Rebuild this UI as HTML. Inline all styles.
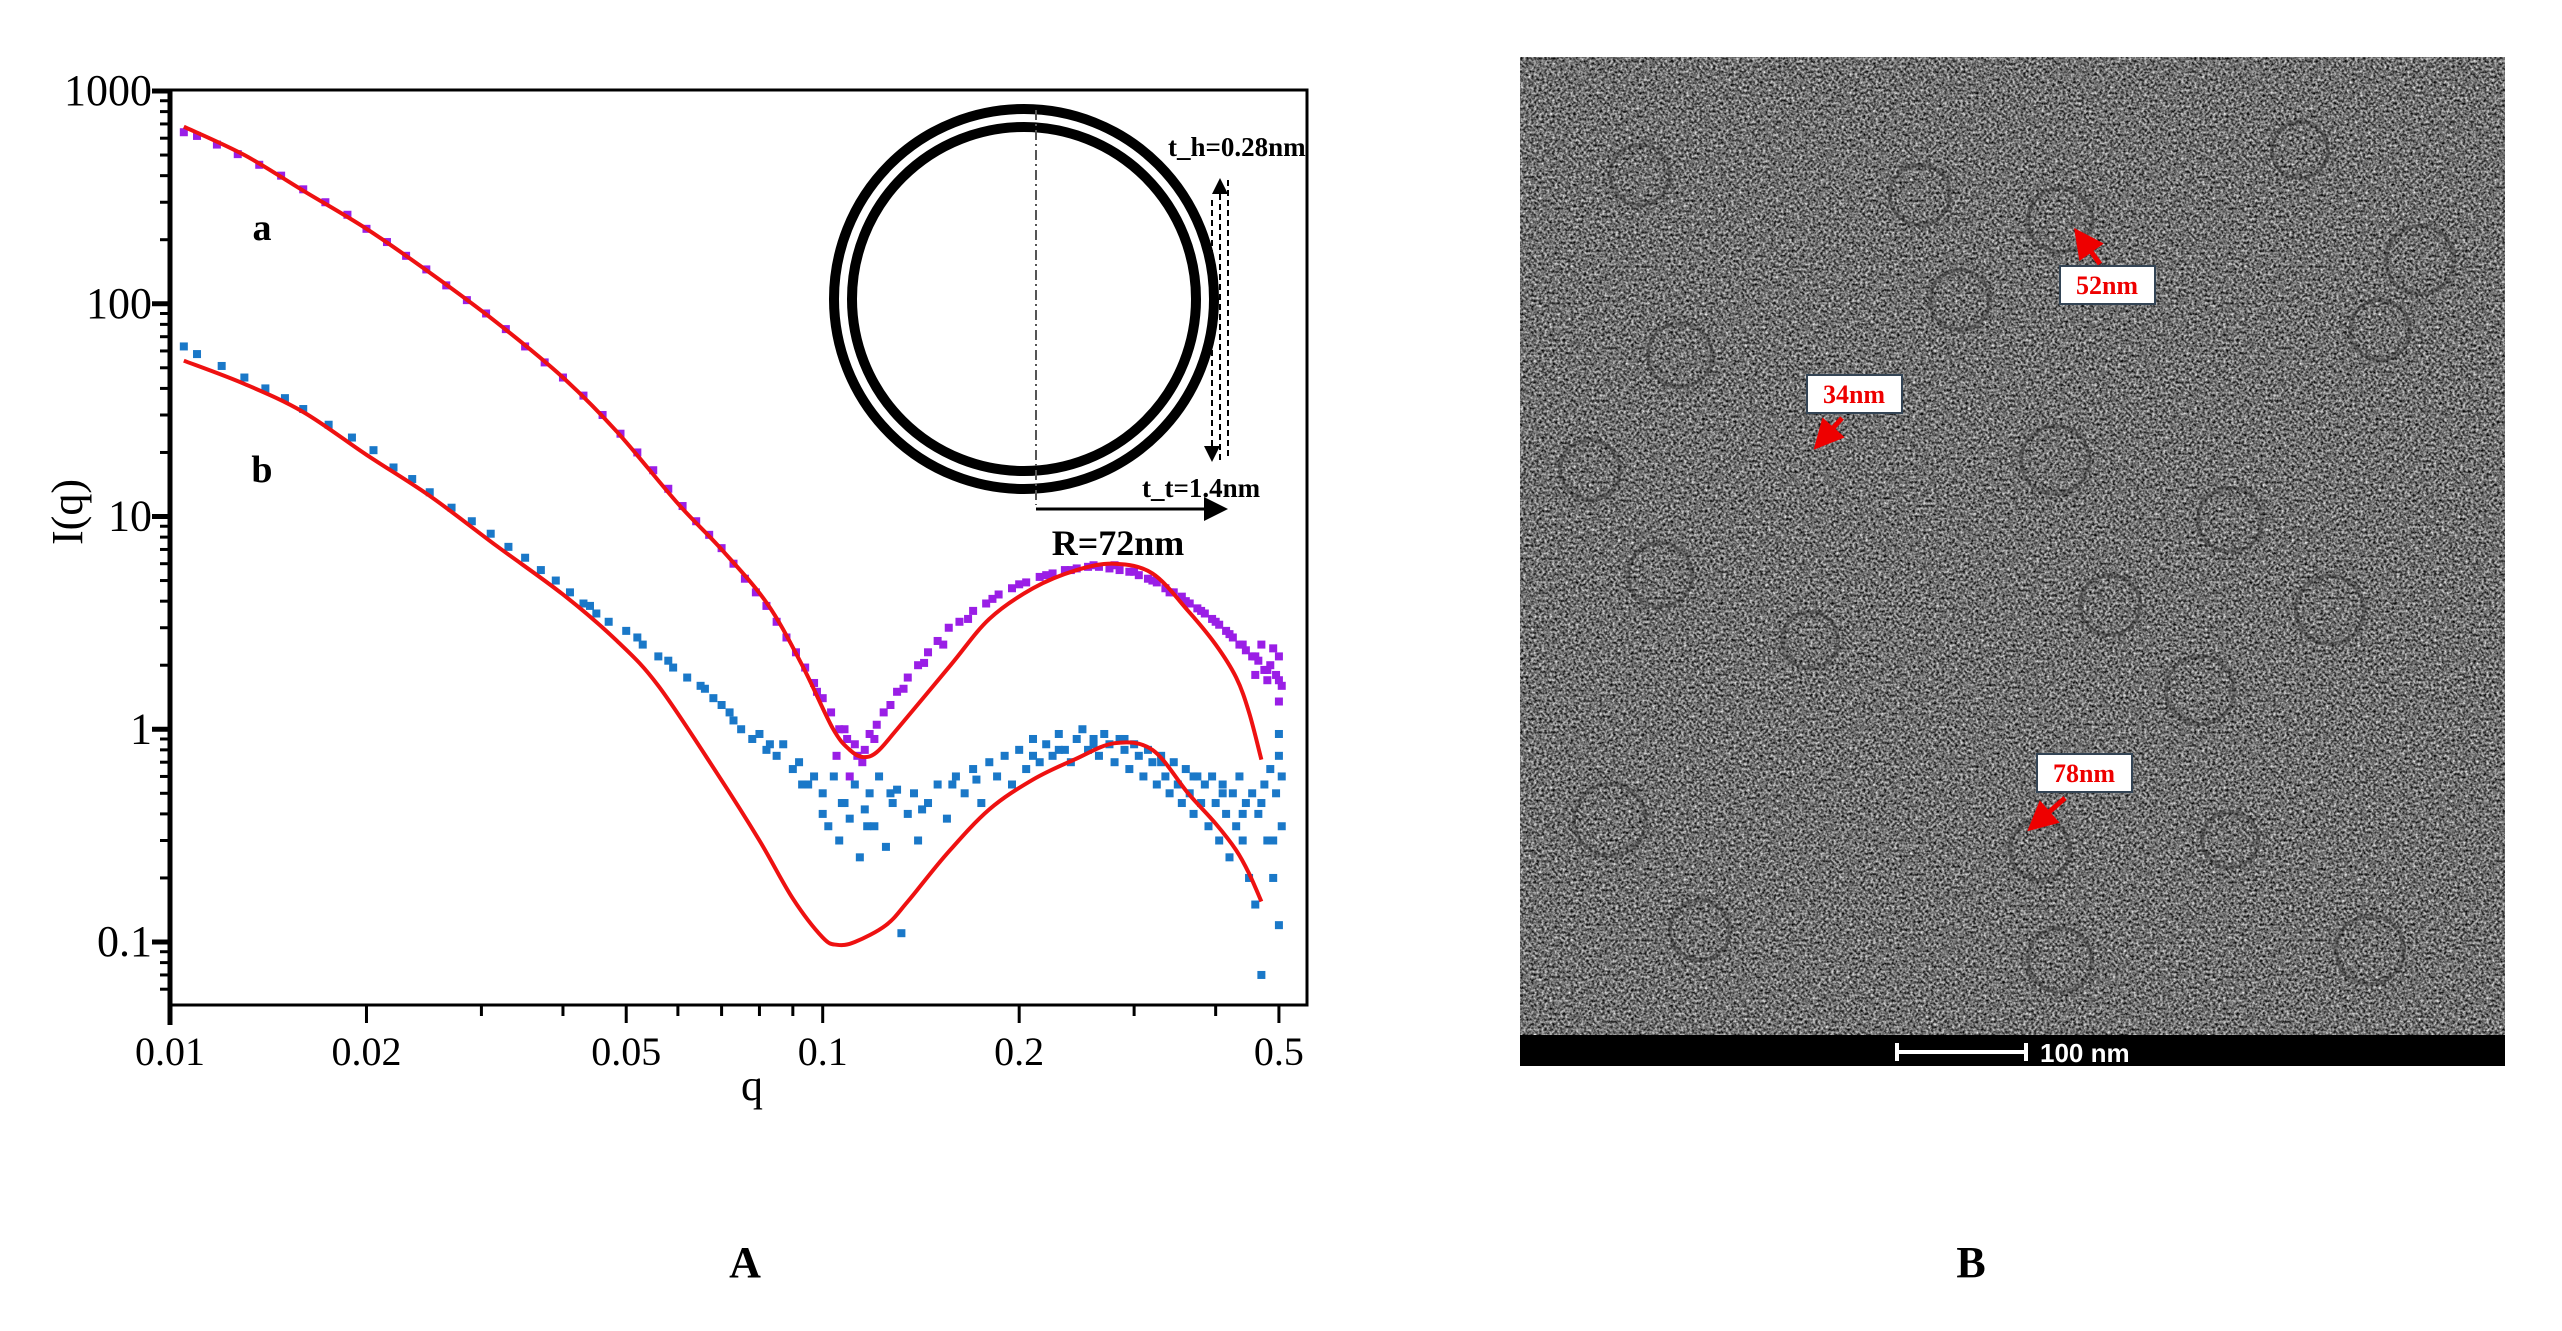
<!DOCTYPE html>
<html><head><meta charset="utf-8"><style>
html,body{margin:0;padding:0;background:#fff;}
svg{display:block;font-family:"Liberation Serif",serif;}
</style></head><body>
<svg id="fig" width="2562" height="1331" viewBox="0 0 2562 1331" xmlns="http://www.w3.org/2000/svg">
<defs>
<filter id="noise" x="0" y="0" width="100%" height="100%" color-interpolation-filters="sRGB">
<feTurbulence type="fractalNoise" baseFrequency="0.38" numOctaves="2" seed="7" result="t"/>
<feColorMatrix type="matrix" values="1.35 0 0 0 -0.24  1.35 0 0 0 -0.24  1.35 0 0 0 -0.24  0 0 0 0 1"/>
</filter>
<clipPath id="plotclip"><rect x="170" y="90" width="1137" height="915"/></clipPath>
<marker id="ah" markerWidth="8" markerHeight="8" refX="7" refY="4" orient="auto"><path d="M0,0 L8,4 L0,8 z" fill="#000"/></marker>
<marker id="rh" markerWidth="6" markerHeight="6" refX="5" refY="3" orient="auto"><path d="M0,0 L6,3 L0,6 z" fill="#e00"/></marker>
</defs>
<g id="chartA"></g>
<g id="panelB">
<rect x="1520" y="57" width="985" height="978" fill="#707070" filter="url(#noise)"/>
<g id="rings" fill="none" stroke="#2a2a2a" stroke-width="4" opacity="0.4"></g>
<rect x="1520" y="1035" width="985" height="31" fill="#000"/>
<g stroke="#fff" stroke-width="4">
<line x1="1897" y1="1052" x2="2026" y2="1052"/><line x1="1897" y1="1043" x2="1897" y2="1061"/><line x1="2026" y1="1043" x2="2026" y2="1061"/>
</g>
<text x="2040" y="1062" fill="#fff" font-family="Liberation Sans, sans-serif" font-size="26" font-weight="bold">100 nm</text>
<g>
<line x1="2100" y1="264" x2="2077" y2="232" stroke="#e00" stroke-width="5" marker-end="url(#rh)"/>
<rect x="2060" y="266" width="95" height="38" fill="#fff" stroke="#345" stroke-width="2"/>
<text x="2107" y="294" text-anchor="middle" fill="#e00" font-size="26" font-weight="bold">52nm</text></g>
<g>
<line x1="1842" y1="418" x2="1817" y2="446" stroke="#e00" stroke-width="5" marker-end="url(#rh)"/>
<rect x="1807" y="375" width="95" height="38" fill="#fff" stroke="#345" stroke-width="2"/>
<text x="1854" y="403" text-anchor="middle" fill="#e00" font-size="26" font-weight="bold">34nm</text></g>
<g>
<line x1="2065" y1="798" x2="2031" y2="828" stroke="#e00" stroke-width="5" marker-end="url(#rh)"/>
<rect x="2037" y="754" width="95" height="38" fill="#fff" stroke="#345" stroke-width="2"/>
<text x="2084" y="782" text-anchor="middle" fill="#e00" font-size="26" font-weight="bold">78nm</text></g>
</g>
<text x="1971" y="1277" text-anchor="middle" font-size="44" font-weight="bold">B</text>
<text x="745" y="1277" text-anchor="middle" font-size="44" font-weight="bold">A</text>
</svg>
<script>
// ---- data ----
const xTicks = [0.01,0.02,0.05,0.1,0.2,0.5];
const xTickLabels = ["0.01","0.02","0.05","0.1","0.2","0.5"];
const yTicks = [1000,100,10,1,0.1];
const yTickLabels = ["1000","100","10","1","0.1"];
const dataAq = [0.0105,0.011,0.0118,0.0127,0.0137,0.0148,0.016,0.0173,0.0187,0.02,0.0215,0.023,0.0247,0.0265,0.0285,0.0305,0.0327,0.035,0.0375,0.04,0.043,0.046,0.049,0.052,0.055,0.058,0.061,0.064,0.067,0.07,0.073,0.076,0.079,0.082,0.085,0.088,0.091,0.094,0.097,0.1,0.103,0.106,0.109,0.112,0.115,0.118,0.121,0.124,0.127,0.13,0.135,0.14,0.145,0.15,0.156,0.162,0.17,0.178,0.186,0.195,0.205,0.215,0.225,0.235,0.245,0.255,0.265,0.275,0.285,0.295,0.305,0.315,0.325,0.335,0.345,0.355,0.365,0.375,0.385,0.395,0.405,0.415,0.425,0.435,0.445,0.455,0.465,0.475,0.485,0.495,0.5,0.505,0.49,0.48,0.47,0.46,0.5,0.105,0.11,0.113,0.108,0.116,0.098,0.12,0.133,0.143,0.153,0.167,0.182,0.2,0.22,0.24,0.26,0.28,0.3,0.32,0.34,0.36,0.38,0.4,0.42,0.44,0.46,0.48,0.5];
const dataAI = [640,615,560,505,450,400,345,300,262,225,195,168,145,122,104,90,76,63,53,45,37,30,24.5,20,16.5,13.5,11.2,9.5,8.2,7.1,6.0,5.1,4.4,3.8,3.2,2.7,2.3,1.95,1.65,1.4,1.2,1.0,0.9,0.85,0.7,0.95,1.05,1.2,1.3,1.5,1.75,2.0,2.3,2.6,3.0,3.2,3.6,3.9,4.3,4.6,4.9,5.2,5.4,5.6,5.7,5.8,5.8,5.7,5.6,5.5,5.3,5.1,4.9,4.6,4.4,4.2,3.9,3.7,3.5,3.3,3.1,2.9,2.7,2.5,2.35,2.2,2.1,1.9,2.0,1.8,2.2,1.6,2.4,1.7,2.5,1.8,1.35,0.75,0.6,0.75,1.0,0.8,1.5,0.9,1.55,2.05,2.5,3.3,4.1,4.8,5.3,5.6,5.9,5.9,5.5,5.0,4.4,4.0,3.6,3.2,2.8,2.5,2.2,1.9,1.7];
const dataBq = [0.0105,0.011,0.012,0.013,0.014,0.015,0.016,0.0175,0.019,0.0205,0.022,0.0235,0.025,0.027,0.029,0.031,0.033,0.035,0.037,0.039,0.041,0.043,0.045,0.047,0.05,0.053,0.056,0.059,0.062,0.065,0.068,0.07,0.073,0.075,0.078,0.08,0.082,0.085,0.087,0.09,0.092,0.095,0.097,0.1,0.1,0.102,0.104,0.106,0.108,0.11,0.112,0.114,0.116,0.118,0.12,0.122,0.125,0.128,0.13,0.132,0.135,0.138,0.14,0.145,0.15,0.155,0.16,0.165,0.17,0.175,0.18,0.185,0.19,0.195,0.2,0.205,0.21,0.215,0.22,0.225,0.23,0.235,0.24,0.245,0.25,0.255,0.26,0.265,0.27,0.275,0.28,0.285,0.29,0.295,0.3,0.305,0.31,0.315,0.32,0.325,0.33,0.335,0.34,0.345,0.35,0.355,0.36,0.365,0.37,0.375,0.38,0.385,0.39,0.395,0.4,0.405,0.41,0.415,0.42,0.425,0.43,0.435,0.44,0.445,0.45,0.455,0.46,0.465,0.47,0.475,0.48,0.485,0.49,0.495,0.5,0.505,0.5,0.505,0.5,0.21,0.23,0.26,0.29,0.33,0.37,0.41,0.44,0.47,0.49,0.044,0.052,0.058,0.066,0.072,0.083,0.093,0.107,0.117,0.127,0.142,0.158,0.172];
const dataBI = [63,58,51,45,40,36,32,27,23.5,20.5,17,15,13,11,9.5,8.3,7.2,6.4,5.6,5.0,4.4,3.9,3.5,3.2,2.9,2.5,2.2,1.95,1.75,1.6,1.4,1.3,1.1,1.0,0.9,0.95,0.8,0.75,0.85,0.65,0.7,0.55,0.6,0.5,0.4,0.35,0.6,0.3,0.45,0.38,0.55,0.25,0.42,0.5,0.35,0.6,0.28,0.45,0.52,0.11,0.4,0.5,0.3,0.45,0.55,0.38,0.6,0.5,0.65,0.45,0.7,0.6,0.75,0.55,0.8,0.65,0.9,0.7,0.85,0.75,0.95,0.8,0.7,0.9,1.0,0.8,0.9,0.75,0.95,0.85,0.7,0.9,0.8,0.65,0.85,0.75,0.6,0.8,0.7,0.55,0.75,0.6,0.5,0.7,0.55,0.45,0.65,0.5,0.4,0.6,0.45,0.55,0.35,0.6,0.45,0.3,0.55,0.4,0.25,0.5,0.35,0.6,0.3,0.45,0.2,0.5,0.15,0.4,0.07,0.55,0.3,0.65,0.2,0.5,0.75,0.35,0.12,0.6,0.95,0.75,0.8,0.85,0.9,0.7,0.6,0.5,0.4,0.45,0.3,3.8,2.7,2.1,1.55,1.2,0.85,0.55,0.45,0.35,0.5,0.42,0.55,0.58];
const fitAq = [0.0105,0.013,0.016,0.02,0.025,0.0316,0.04,0.0484,0.06,0.07,0.0822,0.093,0.1036,0.11,0.1153,0.121,0.13,0.157,0.18,0.21,0.245,0.28,0.32,0.363,0.4,0.43,0.45,0.47];
const fitAI = [680,500,340,225,140,82,45,25,11.5,7,3.9,2.0,1.01,0.8,0.74,0.78,1.0,2.0,3.3,4.6,5.6,6.0,5.4,3.6,2.5,1.75,1.2,0.72];
const fitBq = [0.0105,0.013,0.016,0.02,0.025,0.0316,0.04,0.0484,0.056,0.0689,0.08,0.09,0.1,0.1052,0.112,0.125,0.135,0.155,0.18,0.21,0.243,0.28,0.32,0.363,0.4,0.43,0.45,0.47];
const fitBI = [54,42,31,19.5,12.5,7.3,4.3,2.6,1.6,0.62,0.3,0.16,0.105,0.097,0.1,0.12,0.155,0.26,0.42,0.58,0.72,0.86,0.8,0.5,0.36,0.27,0.21,0.155];
const ringsData = [[1640,175,30],[1920,195,30],[2060,220,32],[2300,150,28],[2420,260,34],[1680,355,32],[1960,300,30],[2380,330,30],[1590,470,30],[2055,460,34],[2230,520,32],[1660,575,32],[2110,605,30],[2330,610,34],[1810,640,28],[2200,690,34],[1610,820,36],[2040,850,30],[2230,840,28],[1700,930,30],[2060,960,32],[2370,950,34]];
// ---- axes ----
const X0=170,X1=1307,Y0=90,Y1=1005;
const xPx=q=>170+(Math.log10(q)+2)*652.7;
const yPx=v=>91+(3-Math.log10(v))*212.75;
const NS='http://www.w3.org/2000/svg';
const g=document.getElementById('chartA');
function mk(tag,attrs,parent){const e=document.createElementNS(NS,tag);for(const k in attrs)e.setAttribute(k,attrs[k]);(parent||g).appendChild(e);return e;}
const frame=mk('rect',{x:X0,y:Y0,width:X1-X0,height:Y1-Y0,fill:'none',stroke:'#000','stroke-width':3});


const yAxis=mk('line',{x1:X0,y1:Y0,x2:X0,y2:Y1+20,stroke:'#000','stroke-width':5});


for(let d=-2;d<=-1;d++)for(let m=1;m<=9;m++){const q=m*Math.pow(10,d);if(q>0.51)continue;const x=xPx(q);const major=xTicks.some(t=>Math.abs(t-q)<1e-9);
const t=mk('line',{x1:x,y1:Y1,x2:x,y2:Y1+(major?18:11),stroke:'#000','stroke-width':3});

}
xTicks.forEach((q,i)=>{const t=mk('text',{x:xPx(q),y:1065,'text-anchor':'middle','font-size':40});t.textContent=xTickLabels[i];

});
for(let d=-2;d<=2;d++)for(let m=1;m<=9;m++){const v=m*Math.pow(10,d);const y=yPx(v);if(y<Y0-1||y>Y1+1)continue;const major=(m===1);
const t=mk('line',{x1:X0-(major?18:10),y1:y,x2:X0,y2:y,stroke:'#000','stroke-width':major?5:3});

}
{const t=mk('line',{x1:X0-18,y1:yPx(1000),x2:X0,y2:yPx(1000),stroke:'#000','stroke-width':5});

}
yTicks.forEach((v,i)=>{const t=mk('text',{x:152,y:yPx(v)+14,'text-anchor':'end','font-size':44});t.textContent=yTickLabels[i];

});
const xt=mk('text',{x:752,y:1100,'text-anchor':'middle','font-size':44});xt.textContent='q';


const yt=mk('text',{x:0,y:0,'text-anchor':'middle','font-size':44,transform:'translate(82,512) rotate(-90)'});yt.textContent='I(q)';


const plot=mk('g',{'clip-path':'url(#plotclip)'});


function scatter(qs,Is,color,name){const sg=mk('g',{fill:color},plot);


qs.forEach((q,i)=>{const r=mk('rect',{x:xPx(q)-4,y:yPx(Is[i])-4,width:8,height:8},sg);

});}
function smooth(qs,Is){const p=qs.map((q,i)=>[xPx(q),yPx(Is[i])]);let d='M'+p[0][0]+','+p[0][1];
for(let i=0;i<p.length-1;i++){const p0=p[i-1]||p[i],p1=p[i],p2=p[i+1],p3=p[i+2]||p2;
d+=' C'+(p1[0]+(p2[0]-p0[0])/6)+','+(p1[1]+(p2[1]-p0[1])/6)+' '+(p2[0]-(p3[0]-p1[0])/6)+','+(p2[1]-(p3[1]-p1[1])/6)+' '+p2[0]+','+p2[1];}return d;}
scatter(dataAq,dataAI,'#9a1ee6','series-a-data');
scatter(dataBq,dataBI,'#1a78c8','series-b-data');
const fa=mk('path',{d:smooth(fitAq,fitAI),fill:'none',stroke:'#ee1111','stroke-width':4},plot);


const fb=mk('path',{d:smooth(fitBq,fitBI),fill:'none',stroke:'#ee1111','stroke-width':4},plot);


const la=mk('text',{x:262,y:240,'text-anchor':'middle','font-size':38,'font-weight':'bold'});la.textContent='a';


const lb=mk('text',{x:262,y:482,'text-anchor':'middle','font-size':38,'font-weight':'bold'});lb.textContent='b';


const ins=mk('g',{});


mk('circle',{cx:1024,cy:299,r:190,fill:'none',stroke:'#000','stroke-width':10},ins);
mk('circle',{cx:1024,cy:299,r:172,fill:'none',stroke:'#000','stroke-width':10},ins);
mk('line',{x1:1036,y1:110,x2:1036,y2:505,stroke:'#555','stroke-width':2,'stroke-dasharray':'10,4,2,4'},ins);
mk('line',{x1:1036,y1:509,x2:1225,y2:509,stroke:'#000','stroke-width':3,'marker-end':'url(#ah)'},ins);
mk('line',{x1:1220,y1:460,x2:1220,y2:180,stroke:'#000','stroke-width':2,'stroke-dasharray':'6,4','marker-end':'url(#ah)'},ins);
mk('line',{x1:1228,y1:180,x2:1228,y2:460,stroke:'#000','stroke-width':2,'stroke-dasharray':'6,4'},ins);
mk('line',{x1:1212,y1:200,x2:1212,y2:460,stroke:'#000','stroke-width':2,'stroke-dasharray':'6,4','marker-end':'url(#ah)'},ins);
const th=mk('text',{x:1168,y:156,'font-size':27,'font-weight':'bold'},ins);th.textContent='t_h=0.28nm';


const tt=mk('text',{x:1142,y:497,'font-size':27,'font-weight':'bold'},ins);tt.textContent='t_t=1.4nm';


const rl=mk('text',{x:1118,y:555,'text-anchor':'middle','font-size':36,'font-weight':'bold'},ins);rl.textContent='R=72nm';


const rg=document.getElementById('rings');
ringsData.forEach(r=>{const c=mk('circle',{cx:r[0],cy:r[1],r:r[2]},rg);

});
</script>
</body></html>
